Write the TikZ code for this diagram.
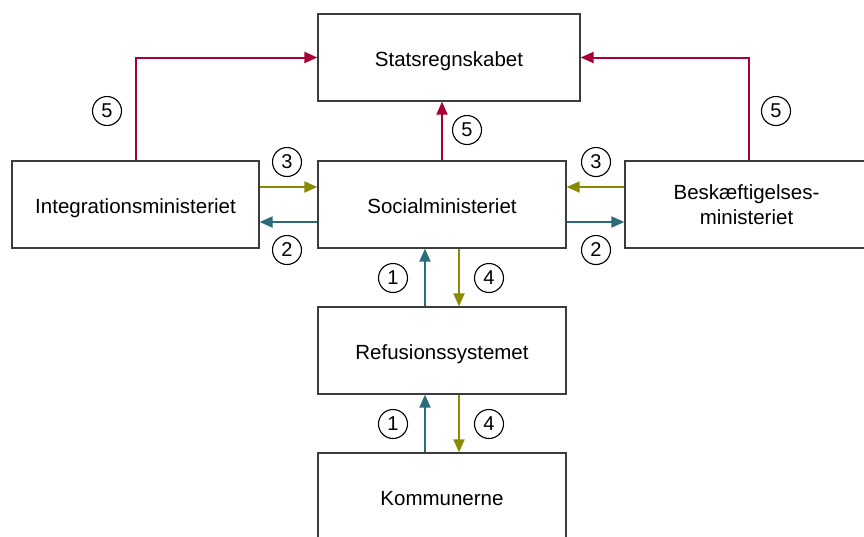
\documentclass[tikz,border=0pt]{standalone}
\usepackage{fontspec}
\setmainfont{Liberation Sans}
\usetikzlibrary{arrows.meta}
\definecolor{olv}{RGB}{138,138,0}
\definecolor{tl}{RGB}{43,108,122}
\definecolor{crim}{RGB}{166,0,52}
\definecolor{bord}{RGB}{60,60,60}
\tikzset{
  box/.style={draw=bord, line width=1.3pt, fill=white, inner sep=0pt, minimum height=87pt, align=center, font=\fontsize{20.5}{25}\selectfont},
  onel/.style={box, text height=17pt, text depth=0pt},
  num/.style={draw=black, line width=1.1pt, circle, inner sep=0pt, minimum size=29pt, font=\fontsize{20}{24}\selectfont},
  arr/.style={line width=2pt, -{Triangle[length=13pt,width=11pt]}},
  flowA/.style={arr, draw=olv},
  flowB/.style={arr, draw=tl},
  flowC/.style={arr, draw=crim},
}
\begin{document}
\begin{tikzpicture}[x=1pt,y=-1pt]
\useasboundingbox (0,0) rectangle (864,536);
\node[onel, minimum width=262pt] (state) at (449,57.5) {Statsregnskabet};
\node[onel, minimum width=247pt] (int) at (135.5,204.5) {Integrationsministeriet};
\node[onel, minimum width=248pt] (soc) at (442,204.5) {Socialministeriet};
\node[box, minimum width=243pt] (besk) at (746.5,204.5) {Beskæftigelses-\\ministeriet};
\node[onel, minimum width=248pt] (ref) at (442,350.5) {Refusionssystemet};
\node[onel, minimum width=248pt] (kom) at (442,496.5) {Kommunerne};

% 3 and 2 left
\draw[flowA] ([yshift=17.5pt]int.east) -- ([yshift=17.5pt]soc.west);
\draw[flowB] ([yshift=-17.5pt]soc.west) -- ([yshift=-17.5pt]int.east);
% 3 and 2 right
\draw[flowA] ([yshift=17.5pt]besk.west) -- ([yshift=17.5pt]soc.east);
\draw[flowB] ([yshift=-17.5pt]soc.east) -- ([yshift=-17.5pt]besk.west);
% 1 and 4 upper
\draw[flowB] ([xshift=-17pt]ref.north) -- ([xshift=-17pt]soc.south);
\draw[flowA] ([xshift=17pt]soc.south) -- ([xshift=17pt]ref.north);
% 1 and 4 lower
\draw[flowB] ([xshift=-17pt]kom.north) -- ([xshift=-17pt]ref.south);
\draw[flowA] ([xshift=17pt]ref.south) -- ([xshift=17pt]kom.north);
% 5
\draw[flowC] (soc.north) -- (soc.north |- state.south);
\draw[flowC] (int.north) |- (state.west);
\draw[flowC] ([xshift=2.5pt]besk.north) |- (state.east);

\node[num] (n5l) at (107,111) {5};
\node[num] (n3l) at (287,162) {3};
\node[num] (n2l) at (287,250) {2};
\node[num] (n5m) at (467,130) {5};
\node[num] (n3r) at (596,162) {3};
\node[num] (n2r) at (596,250) {2};
\node[num] (n5r) at (776,111) {5};
\node[num] (n1u) at (393,278) {1};
\node[num] (n4u) at (489,278) {4};
\node[num] (n1d) at (393,424) {1};
\node[num] (n4d) at (489,424) {4};
\end{tikzpicture}
\end{document}
